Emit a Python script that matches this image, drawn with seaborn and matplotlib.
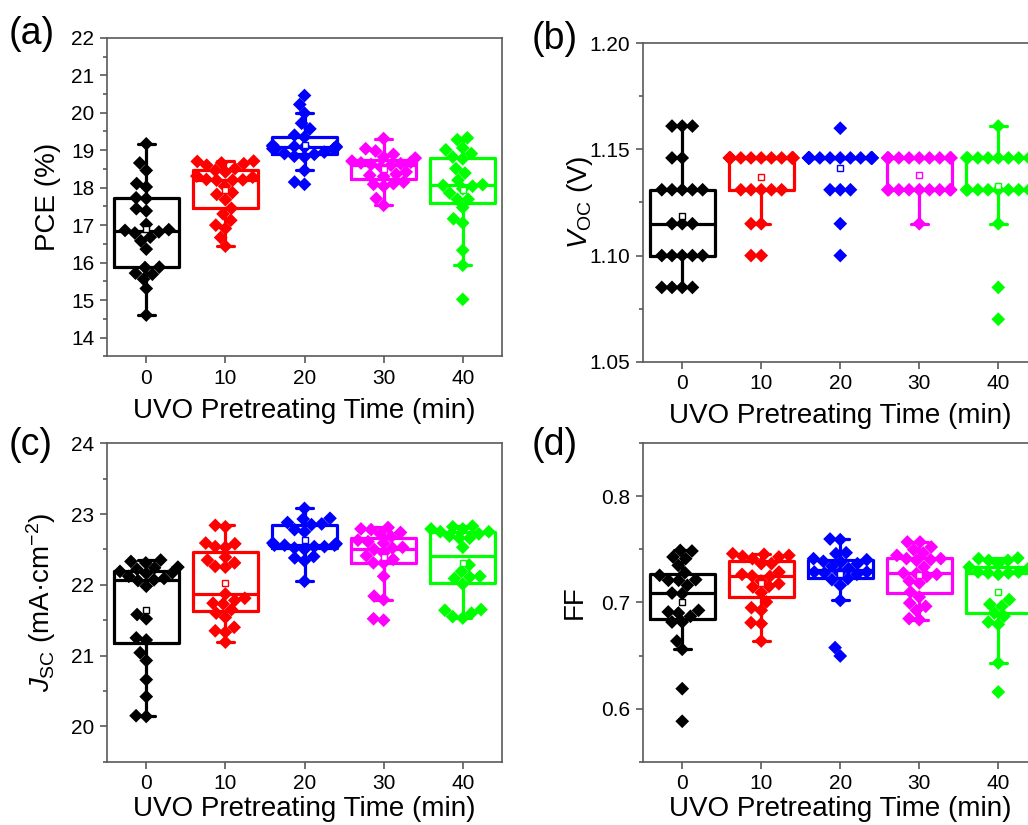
import numpy as np
import pandas as pd
import matplotlib
matplotlib.use("Agg")
import matplotlib.pyplot as plt
import seaborn as sns
import warnings
from matplotlib.ticker import MultipleLocator, FormatStrFormatter

warnings.filterwarnings("ignore")

# ---------------- data ----------------
times = ["0", "10", "20", "30", "40"]
colors = ["#000000", "#FF0000", "#0000FF", "#FF00FF", "#00FF00"]

pce_0 = [19.17, 18.66, 18.46, 18.11, 18.02, 17.73, 17.71, 17.44, 17.38, 17.02, 16.88, 16.86,
         16.82, 16.79, 16.68, 16.58, 16.36, 15.88, 15.87, 15.72, 15.69, 15.56, 15.31, 14.60]
pce_10 = [18.71, 18.70, 18.66, 18.64, 18.60, 18.51, 18.46, 18.42, 18.31, 18.28, 18.22, 18.21,
          18.20, 18.20, 18.04, 17.87, 17.82, 17.68, 17.45, 17.30, 17.13, 17.00, 16.91, 16.67, 16.44]
pce_20 = [20.46, 20.22, 19.99, 19.72, 19.57, 19.40, 19.35, 19.13, 19.10, 19.10, 19.10, 19.08,
          19.08, 19.04, 19.04, 19.04, 18.95, 18.91, 18.89, 18.84, 18.82, 18.46, 18.15, 18.09]
pce_30 = [19.31, 19.04, 18.98, 18.89, 18.82, 18.79, 18.71, 18.68, 18.66, 18.64, 18.62, 18.60,
          18.55, 18.42, 18.36, 18.33, 18.30, 18.15, 18.11, 18.09, 18.04, 17.71, 17.53]
pce_40 = [19.33, 19.28, 19.06, 19.01, 18.91, 18.82, 18.77, 18.51, 18.39, 18.20, 18.08, 18.06,
          18.04, 17.97, 17.86, 17.69, 17.69, 17.47, 17.17, 17.06, 16.33, 15.93, 15.02]

voc_0 = [1.161] * 3 + [1.146] * 2 + [1.131] * 5 + [1.115] * 3 + [1.100] * 5 + [1.085] * 4
voc_10 = [1.146] * 16 + [1.131] * 5 + [1.115] * 2 + [1.100] * 2
voc_20 = [1.160] + [1.146] * 17 + [1.131] * 3 + [1.115] + [1.100]
voc_30 = [1.146] * 11 + [1.131] * 9 + [1.115]
voc_40 = [1.161] + [1.146] * 9 + [1.131] * 12 + [1.115] + [1.085] + [1.070]

jsc_0 = [22.35, 22.33, 22.31, 22.25, 22.24, 22.22, 22.19, 22.17, 22.16, 22.12, 22.09, 22.07,
         22.06, 21.98, 21.58, 21.52, 21.25, 21.22, 21.04, 20.93, 20.66, 20.42, 20.15, 20.14]
jsc_10 = [22.84, 22.82, 22.59, 22.58, 22.54, 22.53, 22.39, 22.35, 22.31, 22.26, 22.25, 21.87,
          21.81, 21.78, 21.74, 21.73, 21.65, 21.60, 21.54, 21.40, 21.35, 21.33, 21.19]
jsc_20 = [23.08, 22.94, 22.93, 22.88, 22.86, 22.85, 22.78, 22.75, 22.59, 22.58, 22.56, 22.56,
          22.56, 22.54, 22.54, 22.52, 22.50, 22.40, 22.38, 22.34, 22.05]
jsc_30 = [22.81, 22.79, 22.78, 22.74, 22.72, 22.68, 22.63, 22.61, 22.59, 22.53, 22.52, 22.50,
          22.45, 22.41, 22.36, 22.31, 22.31, 22.12, 21.84, 21.79, 21.52, 21.50]
jsc_40 = [22.83, 22.82, 22.79, 22.79, 22.75, 22.75, 22.72, 22.69, 22.66, 22.66, 22.53, 22.28,
          22.19, 22.12, 22.11, 22.09, 22.01, 21.65, 21.64, 21.60, 21.55, 21.53]

ff_0 = [0.7491, 0.7485, 0.7429, 0.7413, 0.7350, 0.7281, 0.7256, 0.7215, 0.7209, 0.7209, 0.7162,
        0.7089, 0.7083, 0.6926, 0.6911, 0.6901, 0.6870, 0.6816, 0.6816, 0.6637, 0.6559, 0.6188, 0.5881]
ff_10 = [0.7460, 0.7454, 0.7444, 0.7435, 0.7429, 0.7413, 0.7366, 0.7366, 0.7287, 0.7265, 0.7250,
         0.7246, 0.7203, 0.7177, 0.7152, 0.7146, 0.7093, 0.7005, 0.6951, 0.6926, 0.6810, 0.6801, 0.6637]
ff_20 = [0.7598, 0.7592, 0.7469, 0.7460, 0.7413, 0.7403, 0.7388, 0.7381, 0.7366, 0.7341, 0.7319,
         0.7287, 0.7287, 0.7278, 0.7278, 0.7265, 0.7224, 0.7215, 0.7162, 0.7020, 0.6575, 0.6496]
ff_30 = [0.7570, 0.7570, 0.7523, 0.7498, 0.7466, 0.7444, 0.7413, 0.7413, 0.7403, 0.7397, 0.7334,
         0.7278, 0.7272, 0.7265, 0.7246, 0.7203, 0.7184, 0.7099, 0.7052, 0.6995, 0.6964, 0.6926,
         0.6848, 0.6838]
ff_40 = [0.7419, 0.7413, 0.7397, 0.7397, 0.7366, 0.7334, 0.7319, 0.7287, 0.7287, 0.7278, 0.7278,
         0.7265, 0.7027, 0.6983, 0.6964, 0.6901, 0.6870, 0.6816, 0.6794, 0.6430, 0.6157]

# ---------------- style ----------------
sns.set_theme(style="ticks")
plt.rcParams["font.family"] = ["Liberation Sans", "DejaVu Sans"]
plt.rcParams["mathtext.fontset"] = "custom"
plt.rcParams["mathtext.rm"] = "Liberation Sans"
plt.rcParams["mathtext.it"] = "Liberation Sans:italic"

W, H = 1028, 825
fig = plt.figure(figsize=(W / 100, H / 100), dpi=100)
fig.patch.set_facecolor("white")


def rect(l, t, r, b):
    return [l / W, 1 - b / H, (r - l) / W, (b - t) / H]


def long_df(groups):
    rows = []
    for t, vals in zip(times, groups):
        for v in vals:
            rows.append((t, v))
    return pd.DataFrame(rows, columns=["time", "value"])


panels = [
    dict(rect=rect(106.7, 37.8, 502.3, 356.3), data=[pce_0, pce_10, pce_20, pce_30, pce_40],
         ylim=(13.5, 22), major=1, minor=0.5, fmt="%d", ylabel="PCE (%)",
         tag="(a)", tagxy=(32, 34), ylx=-0.116, xpad=7),
    dict(rect=rect(642.7, 43.3, 1037.8, 361.7), data=[voc_0, voc_10, voc_20, voc_30, voc_40],
         ylim=(1.05, 1.20), major=0.05, minor=0.025, fmt="%.2f", ylabel=r"$V_{\rm OC}$ (V)",
         tag="(b)", tagxy=(555, 39), ylx=-0.12, xpad=7),
    dict(rect=rect(106.7, 443.3, 502.3, 761.7), data=[jsc_0, jsc_10, jsc_20, jsc_30, jsc_40],
         ylim=(19.5, 24), major=1, minor=0.5, fmt="%d", ylabel=r"$J_{\rm SC}$ (mA·cm$^{-2}$)",
         tag="(c)", tagxy=(31, 445), ylx=-0.122, xpad=2),
    dict(rect=rect(642.7, 443.3, 1037.8, 761.7), data=[ff_0, ff_10, ff_20, ff_30, ff_40],
         ylim=(0.55, 0.85), major=0.1, minor=0.05, fmt="%.1f", ylabel="FF",
         tag="(d)", tagxy=(555, 445), ylx=-0.14, xpad=2),
]

spine_col = "#5a5a5a"

for i, p in enumerate(panels):
    ax = fig.add_axes(p["rect"])
    df = long_df(p["data"])
    ax.set_ylim(*p["ylim"])
    sns.boxplot(data=df, x="time", y="value", hue="time", order=times, hue_order=times,
                palette=colors, fill=False, width=0.82, linewidth=2.3, whis=1.5,
                showfliers=False, showmeans=True,
                meanprops=dict(marker="s", markersize=4, markerfacecolor="white",
                               markeredgewidth=1.0),
                capwidths=0.22, legend=False, ax=ax)
    # colour mean markers like their box
    means = [l for l in ax.lines if l.get_marker() == "s"]
    means.sort(key=lambda l: l.get_xdata()[0])
    for l, c in zip(means, colors):
        l.set_markeredgecolor(c)
        l.set_markerfacecolor("white")
        l.set_zorder(4)
    sns.swarmplot(data=df, x="time", y="value", hue="time", order=times, hue_order=times,
                  palette=colors, marker="D", size=7, linewidth=0,
                  legend=False, zorder=3, ax=ax)

    ax.set_xlim(-0.5, 4.5)
    ax.set_ylim(*p["ylim"])
    ax.yaxis.set_major_locator(MultipleLocator(p["major"]))
    ax.yaxis.set_minor_locator(MultipleLocator(p["minor"]))
    ax.yaxis.set_major_formatter(FormatStrFormatter(p["fmt"]))
    for s in ax.spines.values():
        s.set_visible(True)
        s.set_color(spine_col)
        s.set_linewidth(1.2)
    ax.tick_params(axis="both", which="major", direction="out", length=5, width=1.2,
                   color=spine_col, labelsize=15, labelcolor="black", pad=4,
                   top=False, right=False)
    ax.tick_params(axis="y", which="minor", direction="out", length=3, width=1.2,
                   color=spine_col, right=False)
    ax.set_xlabel("UVO Pretreating Time (min)", fontsize=20, labelpad=p["xpad"], color="black")
    ax.set_ylabel(p["ylabel"], fontsize=20, color="black")
    ax.yaxis.set_label_coords(p["ylx"], 0.5)
    ax.set_facecolor("white")
    fig.text(p["tagxy"][0] / W, 1 - p["tagxy"][1] / H, p["tag"], fontsize=27,
             ha="center", va="center", color="black")

fig.savefig("out.png", dpi=100, facecolor="white")
